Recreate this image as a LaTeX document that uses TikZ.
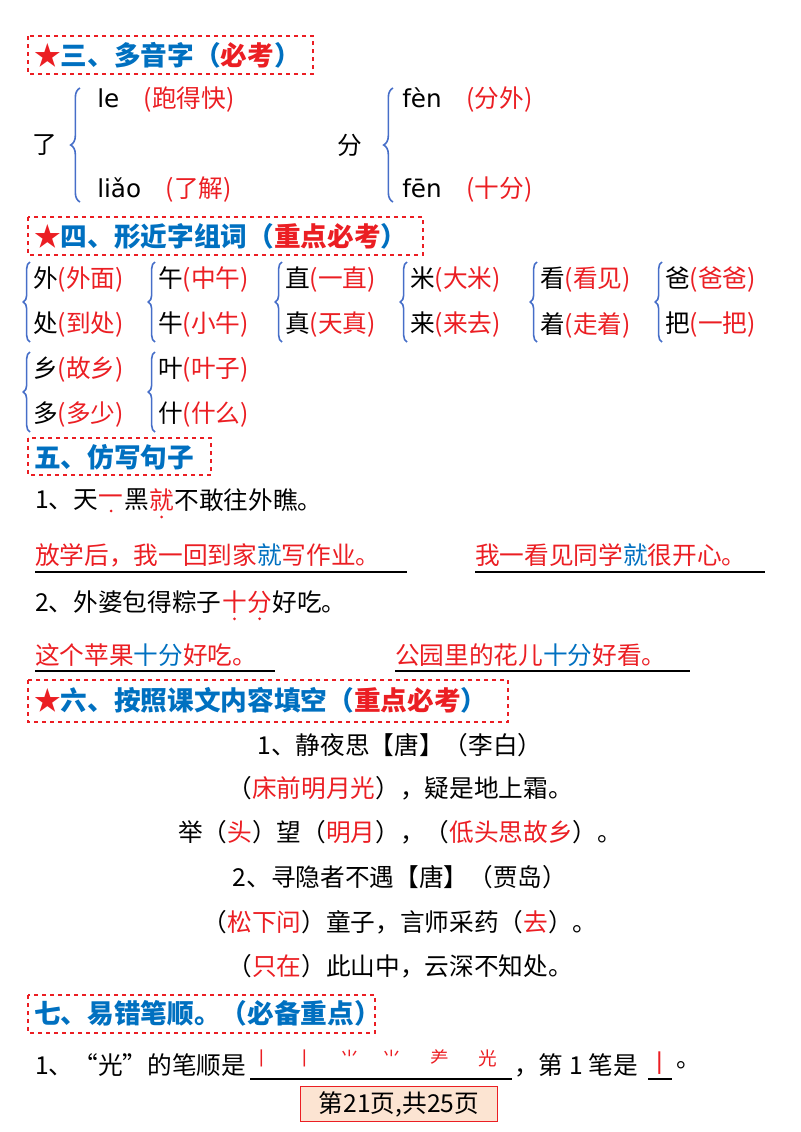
\documentclass[tikz,border=0pt]{standalone}
\usepackage{fontspec}
\setmainfont{Noto Sans CJK SC}
\newfontfamily\latf{DejaVu Sans}
\usetikzlibrary{decorations.pathreplacing}
\definecolor{rd}{RGB}{235,30,35}
\definecolor{bl}{RGB}{0,112,192}
\definecolor{br}{RGB}{70,110,200}
\definecolor{pe}{RGB}{252,228,210}
\tikzset{
 t/.style={anchor=west,inner sep=0pt,font=\fontsize{18.5}{20}\selectfont},
 c/.style={anchor=center,inner sep=0pt,font=\fontsize{18.5}{20}\selectfont},
 hd/.style={anchor=west,inner sep=0pt,font=\fontsize{20}{22}\selectfont\bfseries,text=bl},
 hbox/.style={draw=rd,dashed,line width=0.8pt},
 brc/.style={draw=br,line width=1.2pt,decoration={brace,mirror,amplitude=7pt},decorate},
 brs/.style={draw=br,line width=1.2pt,decoration={brace,mirror,amplitude=5pt},decorate},
 ul/.style={line width=2pt},
}
\newcommand{\R}[1]{\textcolor{rd}{#1}}
\newcommand{\B}[1]{\textcolor{bl}{#1}}
\newcommand{\pair}[5]{%
 \draw[brs] (#1+2,#2-18) -- (#1+2,#2+62);
 \node[t] (#3) at (#1+5,#2) {#4};
 \node[t] (#3b) at (#1+5,#2+45) {#5};}
\begin{document}
\begin{tikzpicture}[x=0.75pt,y=-0.75pt]
\useasboundingbox (0,0) rectangle (800,1132);
% heading 1
\draw[hbox] (28,36) rectangle (313,74);
\node[hd] (h1) at (34,55) {\R{★}三、多音字（\R{必考}）};
\node[c] (le) at (45,145) {了};
\draw[brc] (80,88) -- (80,202);
\node[t] (le1) at (97,100) {{\latf le}\quad \R{(跑得快)}};
\node[t] (le2) at (97,190) {{\latf liǎo}\quad \R{(了解)}};
\node[c] (fen) at (350,145) {分};
\draw[brc] (393,88) -- (393,202);
\node[t] (f1) at (402,100) {{\latf fèn}\quad \R{(分外)}};
\node[t] (f2) at (402,190) {{\latf fēn}\quad \R{(十分)}};
% heading 2
\draw[hbox] (28,217) rectangle (423,255);
\node[hd] (h2) at (34,236) {\R{★}四、形近字组词（\R{重点必考}）};
\pair{28}{280}{p1}{外\R{(外面)}}{处\R{(到处)}}
\pair{153}{280}{p2}{午\R{(中午)}}{牛\R{(小牛)}}
\pair{280}{280}{p3}{直\R{(一直)}}{真\R{(天真)}}
\pair{405}{280}{p4}{米\R{(大米)}}{来\R{(来去)}}
\pair{535}{280}{p5}{看\R{(看见)}}{着\R{(走着)}}
\pair{660}{280}{p6}{爸\R{(爸爸)}}{把\R{(一把)}}
\pair{28}{370}{p7}{乡\R{(故乡)}}{多\R{(多少)}}
\pair{153}{370}{p8}{叶\R{(叶子)}}{什\R{(什么)}}
% heading 3
\draw[hbox] (28,438) rectangle (211,475);
\node[hd] (h3) at (34,457) {五、仿写句子};
\node[t] (s1a) at (35,500) {1、天};
\node[t] (s1b) at (s1a.east) {\R{一}};
\node[t] (s1c) at (s1b.east) {黑};
\node[t] (s1d) at (s1c.east) {\R{就}};
\node[t] (s1e) at (s1d.east) {不敢往外瞧。};
\fill[rd] ([yshift=-4pt]s1b.south) circle (1.5) ([yshift=-4pt]s1d.south) circle (1.5);
\node[t] (a1) at (35,555) {\R{放学后，我一回到家}\B{就}\R{写作业。}};
\draw[ul] (35,572) -- (407,572);
\node[t] (a2) at (475,555) {\R{我一看见同学}\B{就}\R{很开心。}};
\draw[ul] (475,572) -- (765,572);
\node[t] (s2a) at (35,602) {2、外婆包得粽子};
\node[t] (s2b) at (s2a.east) {\R{十}};
\node[t] (s2c) at (s2b.east) {\R{分}};
\node[t] (s2d) at (s2c.east) {好吃。};
\fill[rd] ([yshift=-4pt]s2b.south) circle (1.5) ([yshift=-4pt]s2c.south) circle (1.5);
\node[t] (a3) at (35,655) {\R{这个苹果}\B{十分}\R{好吃。}};
\draw[ul] (35,671) -- (275,671);
\node[t] (a4) at (395,655) {\R{公园里的花儿}\B{十分}\R{好看。}};
\draw[ul] (395,671) -- (690,671);
% heading 4
\draw[hbox] (28,680) rectangle (508,722);
\node[hd] (h4) at (34,700) {\R{★}六、按照课文内容填空（\R{重点必考}）};
\node[c] (q1) at (400,745) {1、静夜思【唐】（李白）};
\node[c] (q2) at (400,788) {（\R{床前明月光}），疑是地上霜。};
\node[c] (q3) at (400,832) {举（\R{头}）望（\R{明月}），（\R{低头思故乡}）。};
\node[c] (q4) at (400,877) {2、寻隐者不遇【唐】（贾岛）};
\node[c] (q5) at (400,922) {（\R{松下问}）童子，言师采药（\R{去}）。};
\node[c] (q6) at (400,966) {（\R{只在}）此山中，云深不知处。};
% heading 5
\draw[hbox] (28,995) rectangle (375,1033);
\node[hd] (h5) at (34,1013) {七、易错笔顺。（必备重点）};
\node[t] (g1) at (35,1065) {1、“光”的笔顺是};
\draw[ul] (250,1079) -- (512,1079);
\foreach \x/\s in {262/丨,305/丨,350/⺌,392/⺌,440/⺶,488/光}
  \node[c,text=rd,font=\fontsize{14}{15}\selectfont] at (\x,1058) {\s};
\node[t] (g2) at (514,1065) {，第 1 笔是};
\draw[ul] (648,1079) -- (672,1079);
\node[c,text=rd] (g3) at (660,1063) {丨};
\node[t] (g4) at (676,1065) {。};
\node[draw=rd,fill=pe,line width=0.8pt,inner sep=0pt,minimum width=148pt,minimum height=26pt,font=\fontsize{18.5}{20}\selectfont] (ft) at (399,1104) {第21页,共25页};
\end{tikzpicture}
\end{document}
